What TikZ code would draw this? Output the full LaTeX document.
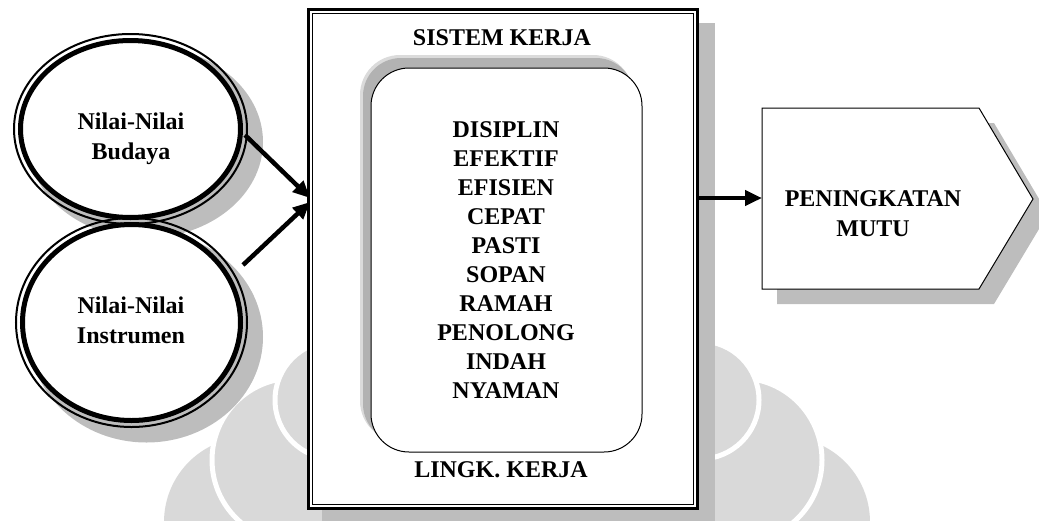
\documentclass[tikz,border=0pt]{standalone}
\usepackage{fontspec}
\setmainfont{Liberation Serif}
\usetikzlibrary{arrows.meta,shapes.geometric,calc}

\begin{document}
\begin{tikzpicture}[x=1pt,y=-1pt,
  shadowfill/.style={fill=black!26},
  markfill/.style={fill=black!15},
  lbl/.style={font=\bfseries\fontsize{24}{30}\selectfont, align=center, inner sep=0pt},
  listtext/.style={font=\bfseries\fontsize{24}{28.9}\selectfont, align=center, inner sep=0pt},
  arr/.style={line width=4.5pt, -{Triangle[length=17pt,width=15pt]}},
  oval/.style={ellipse, draw, line width=5pt, fill=white, inner sep=0pt}]
\useasboundingbox (0,0) rectangle (1039,520);

% faint background emblem
\begin{scope}
  \fill[markfill] (785,522) circle (85);
  \fill[markfill, draw=white, line width=5pt] (740,460) circle (82);
  \fill[markfill, draw=white, line width=5pt] (700,400) circle (59);
  \fill[markfill] (249,522) circle (85);
  \fill[markfill, draw=white, line width=5pt] (294,460) circle (82);
  \fill[markfill, draw=white, line width=5pt] (334,400) circle (59);
\end{scope}

% left ovals with drop shadows
\fill[shadowfill] (145.5,142) ellipse [x radius=117.5, y radius=96];
\node[oval, minimum width=220pt, minimum height=177pt] (budaya) at (130.5,129) {};
\draw[line width=2pt] (budaya.center) ellipse [x radius=116.5, y radius=95];
\node[lbl] (tbudaya) at (131,139) {Nilai-Nilai\\Budaya};

\fill[shadowfill] (146.5,337) ellipse [x radius=116.5, y radius=105.5];
\node[oval, minimum width=218pt, minimum height=196pt] (instrumen) at (131.5,322.5) {};
\draw[line width=2pt] (instrumen.center) ellipse [x radius=115.5, y radius=104.5];
\node[lbl] (tinstrumen) at (131,320) {Nilai-Nilai\\Instrumen};

% main frame
\fill[shadowfill] (322,23) rectangle (715,530);
\node[draw, line width=3pt, fill=white, minimum width=389pt, minimum height=499pt, inner sep=0pt]
  (sistem) at (503,259) {};
\draw[line width=1.8pt] ($(sistem.north west)+(5.5,5.5)$) rectangle ($(sistem.south east)+(-5.5,-5.5)$);
\node[lbl] (judul) at (502,38) {SISTEM KERJA};
\node[lbl] (lingk) at (501,470) {LINGK. KERJA};

% inner rounded panel with offset shadow
\fill[black!14, rounded corners=40pt] (360,55) rectangle (633,441);
\fill[black!30, rounded corners=38pt] (363,58) rectangle (634,442);
\node[draw, line width=1pt, fill=white, rounded corners=38pt, minimum width=271pt, minimum height=384pt, inner sep=0pt]
  (panel) at (506.5,260) {};
\node[listtext] (nilai) at (506,260)
  {DISIPLIN\\EFEKTIF\\EFISIEN\\CEPAT\\PASTI\\SOPAN\\RAMAH\\PENOLONG\\INDAH\\NYAMAN};

% output pentagon
\fill[shadowfill] (777,123) -- (994,123) -- (1048,214) -- (994,304) -- (777,304) -- cycle;
\coordinate (p1) at (762,108);
\coordinate (p2) at (979,108);
\coordinate (p3) at (1033,199);
\coordinate (p4) at (979,289);
\coordinate (p5) at (762,289);
\draw[line width=1pt, fill=white] (p1) -- (p2) -- (p3) -- (p4) -- (p5) -- cycle;
\node[lbl] (mutu) at (873,213.5) {PENINGKATAN\\MUTU};

% connectors
\coordinate (b1) at (245,135);
\coordinate (b2) at (243,265);
\coordinate (in1) at (310,198);
\coordinate (in2) at (310,202);
\coordinate (out) at (699,198);
\coordinate (pin) at (762,198);
\draw[arr] (b1) -- (in1);
\draw[arr] (b2) -- (in2);
\draw[arr] (out) -- (pin);
\end{tikzpicture}
\end{document}
